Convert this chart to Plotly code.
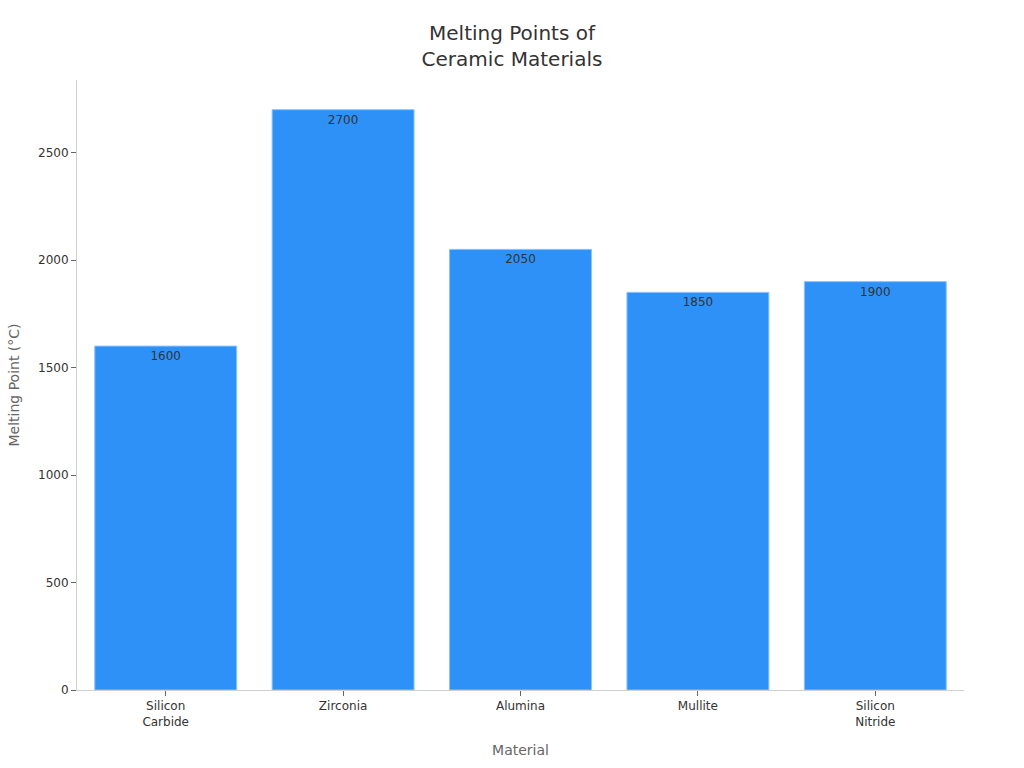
import plotly.graph_objects as go

materials = ["Silicon<br>Carbide", "Zirconia", "Alumina", "Mullite", "Silicon<br>Nitride"]
melting_points = [1600, 2700, 2050, 1850, 1900]

fig = go.Figure(go.Bar(
    x=materials,
    y=melting_points,
    text=[str(v) for v in melting_points],
    textposition="inside",
    insidetextanchor="end",
    textfont=dict(color="#333333", size=12, family="DejaVu Sans"),
    marker=dict(color="#2E91F7", line=dict(color="#8EC3FA", width=1)),
    width=0.8,
))

fig.update_layout(
    width=1024, height=768,
    paper_bgcolor="white", plot_bgcolor="white",
    font=dict(family="DejaVu Sans", color="#333333"),
    title=dict(text="Melting Points of<br>Ceramic Materials", x=0.5, xanchor="center",
               y=0.948, yanchor="top",
               font=dict(size=20, color="#333333", family="DejaVu Sans")),
    margin=dict(l=77, r=60, t=80, b=75),
    showlegend=False,
    xaxis=dict(
        title=dict(text="Material", font=dict(size=14, color="#666666"), standoff=17),
        showline=True, linecolor="#d0d0d0", linewidth=1,
        ticks="outside", ticklen=5, tickcolor="#666666",
        tickfont=dict(size=12, color="#333333"),
        showgrid=False,
    ),
    yaxis=dict(
        title=dict(text="Melting Point (°C)", font=dict(size=14, color="#666666")),
        range=[0, 2838],
        showline=True, linecolor="#d0d0d0", linewidth=1,
        ticks="outside", ticklen=5, tickcolor="#666666",
        tickfont=dict(size=12, color="#333333"),
        dtick=500,
        showgrid=False, zeroline=False,
    ),
)

fig.write_html("out.html")
